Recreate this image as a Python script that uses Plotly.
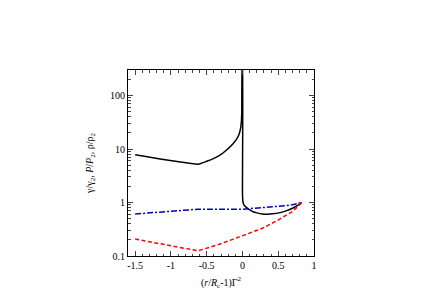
import plotly.graph_objects as go

# Black curve (gamma/gamma2)
gam_x = [-1.5, -0.62, -0.5, -0.4, -0.32, -0.23, -0.135, -0.08, -0.05, -0.035, -0.023, -0.015, -0.01, -0.004,
         0.0, 0.0, 0.002, 0.006, 0.014, 0.03, 0.05, 0.074, 0.11, 0.15, 0.2, 0.28, 0.35, 0.42, 0.51, 0.6, 0.7, 0.77, 0.83]
gam_y = [7.8, 5.2, 5.9, 6.7, 7.6, 9.4, 12.4, 15.5, 18.5, 21.5, 26, 33, 45, 400,
         400, 1.6, 1.25, 1.05, 0.95, 0.87, 0.82, 0.77, 0.72, 0.67, 0.64, 0.61, 0.605, 0.615, 0.64, 0.69, 0.78, 0.88, 1.0]
# Blue dash-dot (P/P2)
p_x = [-1.5, -0.62, 0.0, 0.2, 0.42, 0.6, 0.7, 0.83]
p_y = [0.61, 0.75, 0.75, 0.78, 0.82, 0.87, 0.91, 1.0]
# Red dashed (rho/rho2)
rho_x = [-1.5, -0.62, -0.32, 0.0, 0.28, 0.51, 0.7, 0.83]
rho_y = [0.207, 0.125, 0.166, 0.24, 0.33, 0.48, 0.68, 1.0]

x_ticks = [-1.5, -1, -0.5, 0, 0.5, 1]
x_ticktext = ["-1.5", "-1", "-0.5", "0", "0.5", "1"]
y_ticks = [0.1, 1, 10, 100]
y_ticktext = ["0.1", "1", "10", "100"]

fig = go.Figure()
fig.add_trace(go.Scatter(x=gam_x, y=gam_y, mode="lines",
                         line=dict(color="black", width=1.5, shape="spline", smoothing=0.4), showlegend=False))
fig.add_trace(go.Scatter(x=p_x, y=p_y, mode="lines",
                         line=dict(color="#0000cc", width=1.5, dash="6px,2px,2px,2px"), showlegend=False))
fig.add_trace(go.Scatter(x=rho_x, y=rho_y, mode="lines",
                         line=dict(color="red", width=1.5, dash="4px,2.5px"), showlegend=False))

minor_y = []
for d in [0.1, 1, 10, 100]:
    for k in range(2, 10):
        v = d * k
        if v <= 300:
            minor_y.append(v)
minor_x = [round(-1.6 + 0.1 * i, 2) for i in range(27)]

font = dict(family="Liberation Serif", size=10, color="black")
fig.update_layout(
    width=436, height=308,
    margin=dict(l=120, r=130, t=62, b=60),
    paper_bgcolor="white", plot_bgcolor="white",
    font=font,
    xaxis=dict(range=[-1.6, 1.0], tickmode="array", tickvals=x_ticks, ticktext=x_ticktext,
               ticks="inside", ticklen=5, tickwidth=1, showline=True, linecolor="black", linewidth=1,
               mirror="ticks", showgrid=False, zeroline=False, automargin=False,
               minor=dict(tickmode="array", tickvals=minor_x, ticks="inside", ticklen=2.5, showgrid=False),
               title=dict(text="(<i>r</i>/<i>R</i><sub>c</sub>-1)Γ<sup>2</sup>", font=font, standoff=8)),
    yaxis=dict(type="log", range=[-1, 2.477], tickmode="array", tickvals=y_ticks, ticktext=y_ticktext,
               ticks="inside", ticklen=5, tickwidth=1, showline=True, linecolor="black", linewidth=1,
               mirror="ticks", showgrid=False, zeroline=False, automargin=False,
               minor=dict(tickmode="array", tickvals=minor_y, ticks="inside", ticklen=2.5, showgrid=False),
               title=dict(text="γ/γ<sub>2</sub>, <i>P</i>/<i>P</i><sub>2</sub>, ρ/ρ<sub>2</sub>", font=font, standoff=14)),
)
fig.write_html("out.html")
